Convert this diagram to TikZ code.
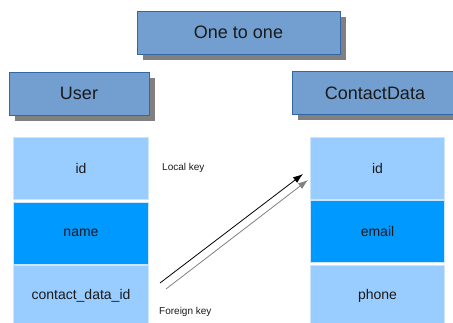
\documentclass[tikz,border=0pt]{standalone}
\usepackage{fontspec}
\setmainfont{Liberation Sans}
\usetikzlibrary{matrix,shadows,arrows.meta}

\definecolor{headfill}{RGB}{114,159,207}
\definecolor{headline}{RGB}{52,101,164}
\definecolor{shadowgray}{RGB}{128,128,128}
\definecolor{fieldlight}{RGB}{153,204,255}
\definecolor{fielddark}{RGB}{0,153,255}
\definecolor{fieldline}{RGB}{204,229,255}
\definecolor{textdark}{RGB}{26,26,26}

\tikzset{
  headbox/.style={draw=headline,fill=headfill,text=textdark,font=\fontsize{18}{20}\selectfont,
    minimum height=43pt,inner sep=0pt,
    drop shadow={shadow xshift=6pt,shadow yshift=-6pt,fill=shadowgray,opacity=1}},
  field/.style={draw=fieldline,line width=1pt,fill=fieldlight,text=textdark,
    font=\fontsize{14}{16}\selectfont,minimum width=134pt,minimum height=62pt,inner sep=0pt},
  keyfield/.style={field,fill=fielddark},
  keylabel/.style={anchor=west,text=textdark,inner sep=0pt,font=\fontsize{10}{12}\selectfont}
}

\begin{document}
\begin{tikzpicture}[x=1pt,y=1pt]
  \useasboundingbox (0,0) rectangle (453,323);
  \clip (0,0) rectangle (453,323);

  \node [headbox,minimum width=203pt] (title) at (238.5,290.5) {One to one};
  \node [headbox,minimum width=140pt] (user) at (79,229.5) {User};
  \node [headbox,minimum width=166pt] (contact) at (375,230) {ContactData};

  \matrix [matrix of nodes,
           column sep={296.5pt,between origins},
           row sep={63pt,between origins},
           nodes={field}] at (229.25,90.5)
  {
    |(uid)| id                         & |(cid)| id \\
    |[keyfield](uname)| name           & |[keyfield](cemail)| email \\
    |(ucontact)| contact\_data\_id     & |(cphone)| phone \\
  };

  \node [keylabel] (local) at (162,155) {Local key};
  \node [keylabel] (foreign) at (159,11) {Foreign key};

  \coordinate (fkstart) at (160,40);
  \coordinate (fkend) at (303,149);
  \coordinate (lkstart) at (166,34);
  \coordinate (lkend) at (308,143);
  \begin{scope}[line width=0.8pt]
    \draw [-{Latex[length=10pt,width=7pt]}] (fkstart) -- (fkend);
    \draw [shadowgray,-{Latex[length=10pt,width=7pt]}] (lkstart) -- (lkend);
  \end{scope}
\end{tikzpicture}
\end{document}
